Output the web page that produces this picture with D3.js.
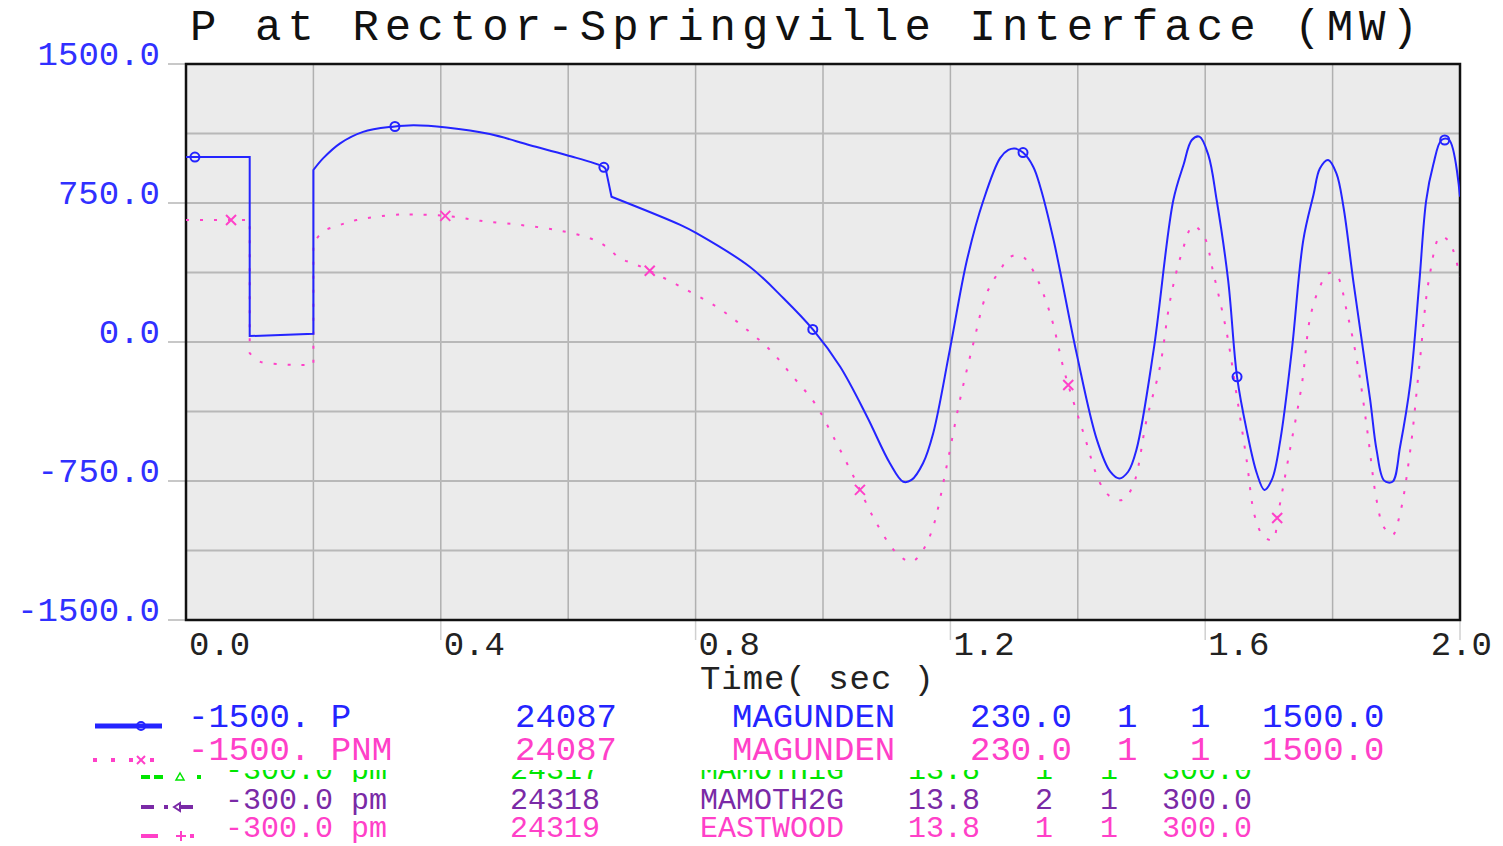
<!DOCTYPE html>
<html>
<head>
<meta charset="utf-8">
<script src="https://cdn.jsdelivr.net/npm/d3@7"></script>
<style>
  body { margin: 0; background: #fff; }
  text { font-family: "Liberation Mono", "DejaVu Sans Mono", monospace; }
</style>
</head>
<body>
<div class="plot"></div>
<script>
// channel P (MW) at Rector-Springville, [time sec, MW]
const pTime = [0, 0.1, 0.1, 0.2, 0.2, 0.2155, 0.242, 0.278, 0.325, 0.357, 0.409, 0.477, 0.540, 0.598, 0.655, 0.659,
  0.668, 0.776, 0.802, 0.885, 0.938, 0.985, 1.027, 1.069, 1.105, 1.126, 1.139, 1.157, 1.173, 1.199, 1.226, 1.252,
  1.278, 1.291, 1.301, 1.314, 1.330, 1.341, 1.362, 1.398, 1.430, 1.451, 1.465, 1.479, 1.492, 1.519, 1.550, 1.566,
  1.579, 1.591, 1.605, 1.618, 1.636, 1.650, 1.665, 1.681, 1.693, 1.705, 1.718, 1.736, 1.754, 1.770, 1.780, 1.793,
  1.806, 1.817, 1.833, 1.859, 1.869, 1.881, 1.894, 1.906, 1.922, 1.936, 1.947, 1.958, 1.971, 1.983, 2.0];
const pVal = [998, 998, 32, 44, 928, 992, 1072, 1134, 1162, 1170, 1158, 1122, 1062, 1008, 946, 932,
  784, 632, 586, 406, 236, 64, -134, -402, -654, -754, -744, -654, -492, -44, 442, 766,
  992, 1036, 1044, 1022, 946, 838, 550, -60, -528, -700, -736, -700, -582, -44, 766, 956,
  1090, 1108, 1008, 766, 334, -188, -474, -708, -798, -740, -528, -44, 550, 794, 936, 982,
  910, 730, 316, -312, -582, -748, -754, -564, -222, 316, 766, 956, 1090, 1090, 784];
const pCorners = [0.1, 0.2, 0.659, 0.668];

// channel PNM
const pnmTime = [0, 0.1, 0.1, 0.116, 0.148, 0.176, 0.2, 0.2, 0.2155, 0.242, 0.268, 0.325, 0.357, 0.409, 0.462, 0.524,
  0.582, 0.634, 0.660, 0.681, 0.702, 0.728, 0.781, 0.833, 0.875, 0.917, 0.953, 0.987, 1.016, 1.048, 1.058, 1.084,
  1.116, 1.139, 1.157, 1.173, 1.194, 1.215, 1.236, 1.257, 1.278, 1.294, 1.312, 1.330, 1.356, 1.377, 1.385, 1.409,
  1.435, 1.451, 1.470, 1.487, 1.508, 1.529, 1.545, 1.563, 1.581, 1.598, 1.613, 1.634, 1.649, 1.665, 1.678, 1.692,
  1.706, 1.715, 1.733, 1.752, 1.765, 1.780, 1.793, 1.806, 1.823, 1.840, 1.855, 1.869, 1.880, 1.894, 1.906, 1.922,
  1.936, 1.952, 1.969, 1.983, 2.0];
const pnmVal = [658, 658, -60, -106, -120, -124, -124, 534, 596, 632, 658, 686, 688, 680, 654, 632,
  604, 560, 514, 452, 424, 384, 290, 190, 82, -44, -188, -330, -510, -726, -798, -978,
  -1140, -1186, -1122, -996, -672, -312, -8, 262, 388, 460, 464, 384, 160, -134, -232, -492,
  -762, -834, -852, -772, -420, -134, 226, 478, 626, 572, 370, 46, -278, -636, -942, -1050,
  -1068, -916, -582, -222, 136, 298, 370, 362, 154, -134, -492, -852, -996, -1042, -924, -582,
  -134, 352, 568, 542, 352];
const pnmCorners = [0.1, 0.2];

// symbol times
const pMarkT = [0.014, 0.328, 0.656, 0.984, 1.314, 1.650, 1.976];
const pnmMarkT = [0.0707, 0.407, 0.728, 1.058, 1.385, 1.713];

// axis ticks
const xTicks = [0, 0.2, 0.4, 0.6, 0.8, 1.0, 1.2, 1.4, 1.6, 1.8, 2.0];
const xLabels = ["0.0", "0.4", "0.8", "1.2", "1.6", "2.0"];
const yTicks = [1500, 1125, 750, 375, 0, -375, -750, -1125, -1500];
const yLabels = ["1500.0", "750.0", "0.0", "-750.0", "-1500.0"];

// channel list under the plot
const chMin = ["-1500.", "-1500.", "-300.0", "-300.0", "-300.0"];
const chName = ["P", "PNM", "pm", "pm", "pm"];
const chBus = ["24087", "24087", "24317", "24318", "24319"];
const chBusName = ["MAGUNDEN", "MAGUNDEN", "MAMOTH1G", "MAMOTH2G", "EASTWOOD"];
const chKv = ["230.0", "230.0", "13.8", "13.8", "13.8"];
const chId1 = ["1", "1", "1", "2", "1"];
const chId2 = ["1", "1", "1", "1", "1"];
const chMax = ["1500.0", "1500.0", "300.0", "300.0", "300.0"];

const BLUE = "#2424ff", PINK = "#ff40c8", GREEN = "#00e600", PURPLE = "#7a2aa6";
const chColor = [BLUE, PINK, GREEN, PURPLE, PINK];

const W = 1503, H = 846;
const pLeft = 186, pRight = 1460, pTop = 64, pBottom = 620;

var svg = d3.select(".plot").append("svg")
  .attr("width", W)
  .attr("height", H);

var x = d3.scaleLinear().domain([0, 2]).range([pLeft, pRight]);
var y = d3.scaleLinear().domain([-1500, 1500]).range([pBottom, pTop]);

// title
svg.append("text")
  .attr("x", 190).attr("y", 40)
  .attr("font-size", 44)
  .attr("textLength", 1228).attr("lengthAdjust", "spacing")
  .attr("fill", "#111")
  .text("P at Rector-Springville Interface (MW)");

// plot area
svg.append("rect")
  .attr("x", pLeft).attr("y", pTop)
  .attr("width", pRight - pLeft).attr("height", pBottom - pTop)
  .attr("fill", "#ebebeb");

svg.append("g").selectAll("line")
  .data(xTicks.slice(1, -1))
  .enter().append("line")
  .attr("x1", d => x(d)).attr("x2", d => x(d))
  .attr("y1", pTop).attr("y2", pBottom)
  .attr("stroke", "#b0b0b0").attr("stroke-width", 1.5);

svg.append("g").selectAll("line")
  .data(yTicks.slice(1, -1))
  .enter().append("line")
  .attr("x1", pLeft).attr("x2", pRight)
  .attr("y1", d => y(d)).attr("y2", d => y(d))
  .attr("stroke", "#b8b8b8").attr("stroke-width", 2);

// little ticks outside the frame at labelled values
svg.append("g").selectAll("line")
  .data(yLabels.map(Number))
  .enter().append("line")
  .attr("x1", 168).attr("x2", pLeft)
  .attr("y1", d => y(d)).attr("y2", d => y(d))
  .attr("stroke", "#c8c8c8").attr("stroke-width", 2);

svg.append("g").selectAll("line")
  .data(xLabels.map(Number).slice(1))
  .enter().append("line")
  .attr("x1", d => x(d)).attr("x2", d => x(d))
  .attr("y1", pBottom).attr("y2", 640)
  .attr("stroke", "#d0d0d0").attr("stroke-width", 1.5);

svg.append("rect")
  .attr("x", pLeft).attr("y", pTop)
  .attr("width", pRight - pLeft).attr("height", pBottom - pTop)
  .attr("fill", "none").attr("stroke", "#111").attr("stroke-width", 2.5);

// y labels
svg.append("g").selectAll("text")
  .data(yLabels)
  .enter().append("text")
  .attr("x", 160)
  .attr("y", d => y(+d) + 1)
  .attr("text-anchor", "end")
  .attr("font-size", 34)
  .attr("fill", "#3030ff")
  .text(d => d);

// x labels
svg.append("g").selectAll("text")
  .data(xLabels)
  .enter().append("text")
  .attr("x", (d, i) => i == xLabels.length - 1 ? 1492 : x(+d) + 3)
  .attr("y", 655)
  .attr("text-anchor", (d, i) => i == xLabels.length - 1 ? "end" : "start")
  .attr("font-size", 34)
  .attr("fill", "#222")
  .text(d => d);

svg.append("text")
  .attr("x", 700).attr("y", 689)
  .attr("font-size", 34)
  .attr("textLength", 234).attr("lengthAdjust", "spacing")
  .attr("fill", "#222")
  .text("Time( sec )");

// curves: smooth between switching events, straight at the corners
var line = d3.line().x(d => x(d[0])).y(d => y(d[1])).curve(d3.curveCatmullRom.alpha(0.5));

function stepPath(ts, vs, corners) {
  var pieces = [], cur = [];
  ts.forEach((t, i) => {
    if (i > 0 && t == ts[i - 1]) {
      pieces.push(cur); cur = [];
    } else if (i > 0 && corners.includes(ts[i - 1]) && cur.length > 1) {
      pieces.push(cur); cur = [[ts[i - 1], vs[i - 1]]];
    }
    cur.push([t, vs[i]]);
  });
  pieces.push(cur);
  return pieces.map((p, i) => {
    var s = p.length > 1 ? line(p) : "M" + x(p[0][0]) + "," + y(p[0][1]);
    return i == 0 ? s : "L" + s.slice(1);
  }).join("");
}

svg.append("defs").append("clipPath").attr("id", "clip")
  .append("rect").attr("x", pLeft).attr("y", pTop)
  .attr("width", pRight - pLeft).attr("height", pBottom - pTop);

var curves = svg.append("g").attr("clip-path", "url(#clip)");

curves.append("path")
  .attr("d", stepPath(pnmTime, pnmVal, pnmCorners))
  .attr("fill", "none")
  .attr("stroke", PINK).attr("stroke-width", 2)
  .attr("stroke-dasharray", "3,11");

curves.append("path")
  .attr("d", stepPath(pTime, pVal, pCorners))
  .attr("fill", "none")
  .attr("stroke", BLUE).attr("stroke-width", 2);

// value at time t by straight interpolation
function valueAt(ts, vs, t) {
  for (var i = 1; i < ts.length; i++) {
    if (t <= ts[i] && ts[i] > ts[i - 1]) {
      var f = (t - ts[i - 1]) / (ts[i] - ts[i - 1]);
      return vs[i - 1] + f * (vs[i] - vs[i - 1]);
    }
  }
  return vs[vs.length - 1];
}

curves.selectAll("circle")
  .data(pMarkT)
  .enter().append("circle")
  .attr("cx", d => x(d))
  .attr("cy", d => y(valueAt(pTime, pVal, d)))
  .attr("r", 4.5)
  .attr("fill", "none").attr("stroke", BLUE).attr("stroke-width", 2);

curves.selectAll("path.cross")
  .data(pnmMarkT)
  .enter().append("path")
  .attr("class", "cross")
  .attr("transform", d => "translate(" + x(d) + "," + y(valueAt(pnmTime, pnmVal, d)) + ")")
  .attr("d", "M-5,-5L5,5M-5,5L5,-5")
  .attr("stroke", PINK).attr("stroke-width", 2);

// channel list
var cols12 = [188, 515, 732, 970, 1117, 1190, 1262];
var cols345 = [225, 510, 700, 908, 1035, 1100, 1162];
var rowY = [727, 760, 779, 809, 837];

svg.append("defs").append("clipPath").attr("id", "rowclip")
  .append("rect").attr("x", 0).attr("y", 770).attr("width", W).attr("height", 12);

chName.forEach((nm, i) => {
  var cols = i < 2 ? cols12 : cols345;
  var fs = i < 2 ? 34 : 30;
  var cells = [chMin[i] + " " + nm, chBus[i], chBusName[i], chKv[i], chId1[i], chId2[i], chMax[i]];
  var g = svg.append("g");
  if (i == 2) g.attr("clip-path", "url(#rowclip)");
  g.selectAll("text")
    .data(cells)
    .enter().append("text")
    .attr("x", (d, j) => cols[j])
    .attr("y", rowY[i])
    .attr("font-size", fs)
    .attr("fill", chColor[i])
    .text(d => d);
});

// line keys
var key = svg.append("g");
key.append("line").attr("x1", 95).attr("x2", 162).attr("y1", 726).attr("y2", 726)
  .attr("stroke", BLUE).attr("stroke-width", 5);
key.append("circle").attr("cx", 141).attr("cy", 726).attr("r", 4)
  .attr("fill", "none").attr("stroke", BLUE).attr("stroke-width", 2);

[95, 113, 131, 152].forEach(cx => key.append("rect")
  .attr("x", cx - 2).attr("y", 758).attr("width", 4).attr("height", 4).attr("fill", PINK));
key.append("path").attr("transform", "translate(141,760)")
  .attr("d", "M-4,-4L4,4M-4,4L4,-4").attr("stroke", PINK).attr("stroke-width", 2);

key.append("line").attr("x1", 141).attr("x2", 166).attr("y1", 777).attr("y2", 777)
  .attr("stroke", GREEN).attr("stroke-width", 4).attr("stroke-dasharray", "9,4");
key.append("path").attr("d", "M180,773L184,780L176,780Z")
  .attr("fill", "none").attr("stroke", GREEN).attr("stroke-width", 1.5);
key.append("rect").attr("x", 197).attr("y", 775).attr("width", 4).attr("height", 4).attr("fill", GREEN);

key.append("line").attr("x1", 141).attr("x2", 154).attr("y1", 807).attr("y2", 807)
  .attr("stroke", PURPLE).attr("stroke-width", 4);
key.append("rect").attr("x", 164).attr("y", 805).attr("width", 4).attr("height", 4).attr("fill", PURPLE);
key.append("path").attr("d", "M174,807L180,803L180,811Z")
  .attr("fill", "none").attr("stroke", PURPLE).attr("stroke-width", 2);
key.append("line").attr("x1", 180).attr("x2", 193).attr("y1", 807).attr("y2", 807)
  .attr("stroke", PURPLE).attr("stroke-width", 4);

key.append("line").attr("x1", 141).attr("x2", 158).attr("y1", 836).attr("y2", 836)
  .attr("stroke", PINK).attr("stroke-width", 4);
key.append("path").attr("d", "M176,836L186,836M181,831L181,841")
  .attr("stroke", PINK).attr("stroke-width", 2);
key.append("rect").attr("x", 190).attr("y", 834).attr("width", 4).attr("height", 4).attr("fill", PINK);
</script>
</body>
</html>
